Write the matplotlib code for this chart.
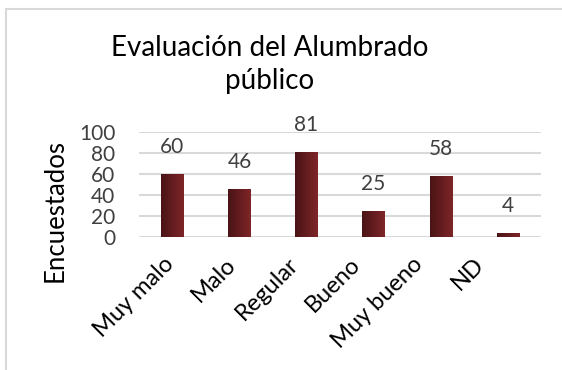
import numpy as np
import matplotlib
matplotlib.use("Agg")
import matplotlib.pyplot as plt
from matplotlib.colors import LinearSegmentedColormap
from matplotlib.patches import Rectangle
from matplotlib.transforms import ScaledTranslation

categorias = ["Muy malo", "Malo", "Regular", "Bueno", "Muy bueno", "ND"]
encuestados = [60, 46, 81, 25, 58, 4]
yticks = [0, 20, 40, 60, 80, 100]

plt.rcParams['font.family'] = ['Lato', 'DejaVu Sans']

fig = plt.figure(figsize=(5.62, 3.70), dpi=100)
# marco del grafico
fig.patches.append(Rectangle((0.011, -0.1), 1.2, 0.076 + 1.0, transform=fig.transFigure,
                             fill=False, edgecolor='#d9d9d9', linewidth=1.5))

ax = fig.add_axes([0.247, 0.3595, 0.716, 0.2846])
x = np.arange(len(categorias))
bars = ax.bar(x, encuestados, width=0.33, color='none', zorder=3)

# degradado granate en cada barra
cmap = LinearSegmentedColormap.from_list('granate', ['#4a1416', '#7e2528'])
grad = np.linspace(0, 1, 64).reshape(1, -1)
for b in bars:
    x0, w, h = b.get_x(), b.get_width(), b.get_height()
    im = ax.imshow(grad, cmap=cmap, aspect='auto', extent=[x0, x0 + w, 0, h], zorder=3)
    im.set_clip_path(b)

for xi, v in zip(x, encuestados):
    ax.annotate(str(v), (xi, v), xytext=(0, 12), textcoords='offset points',
                ha='center', va='bottom', fontsize=15, color='#404040')

ax.set_xlim(-0.5, len(categorias) - 0.5)
ax.set_ylim(0, 100)
ax.set_yticks(yticks)
ax.yaxis.grid(True, color='#d9d9d9', linewidth=1.5, zorder=0)
ax.set_axisbelow(True)
for s in ax.spines.values():
    s.set_visible(False)
ax.tick_params(axis='both', length=0, labelsize=15, labelcolor='#404040')
ax.tick_params(axis='y', pad=17)
ax.set_xticks(x)
ax.set_xticklabels(categorias, rotation=45, ha='right', rotation_mode='anchor',
                   fontsize=17, color='black')
ax.tick_params(axis='x', pad=12)
# etiquetas inclinadas algo desplazadas a la izquierda, cada vez mas
for i, lbl in enumerate(ax.get_xticklabels()):
    dx = -(9 + 5 * i) / 100
    lbl.set_transform(lbl.get_transform() + ScaledTranslation(dx, 0, fig.dpi_scale_trans))

ax.set_ylabel('Encuestados', fontsize=18.5, color='black')
ax.yaxis.set_label_coords(-0.178, 0.247)

fig.text(0.48, 0.826, 'Evaluación del Alumbrado\npúblico', ha='center', va='center',
         multialignment='center', fontsize=20, color='black', linespacing=1.3)

fig.savefig('out.png', dpi=100)
